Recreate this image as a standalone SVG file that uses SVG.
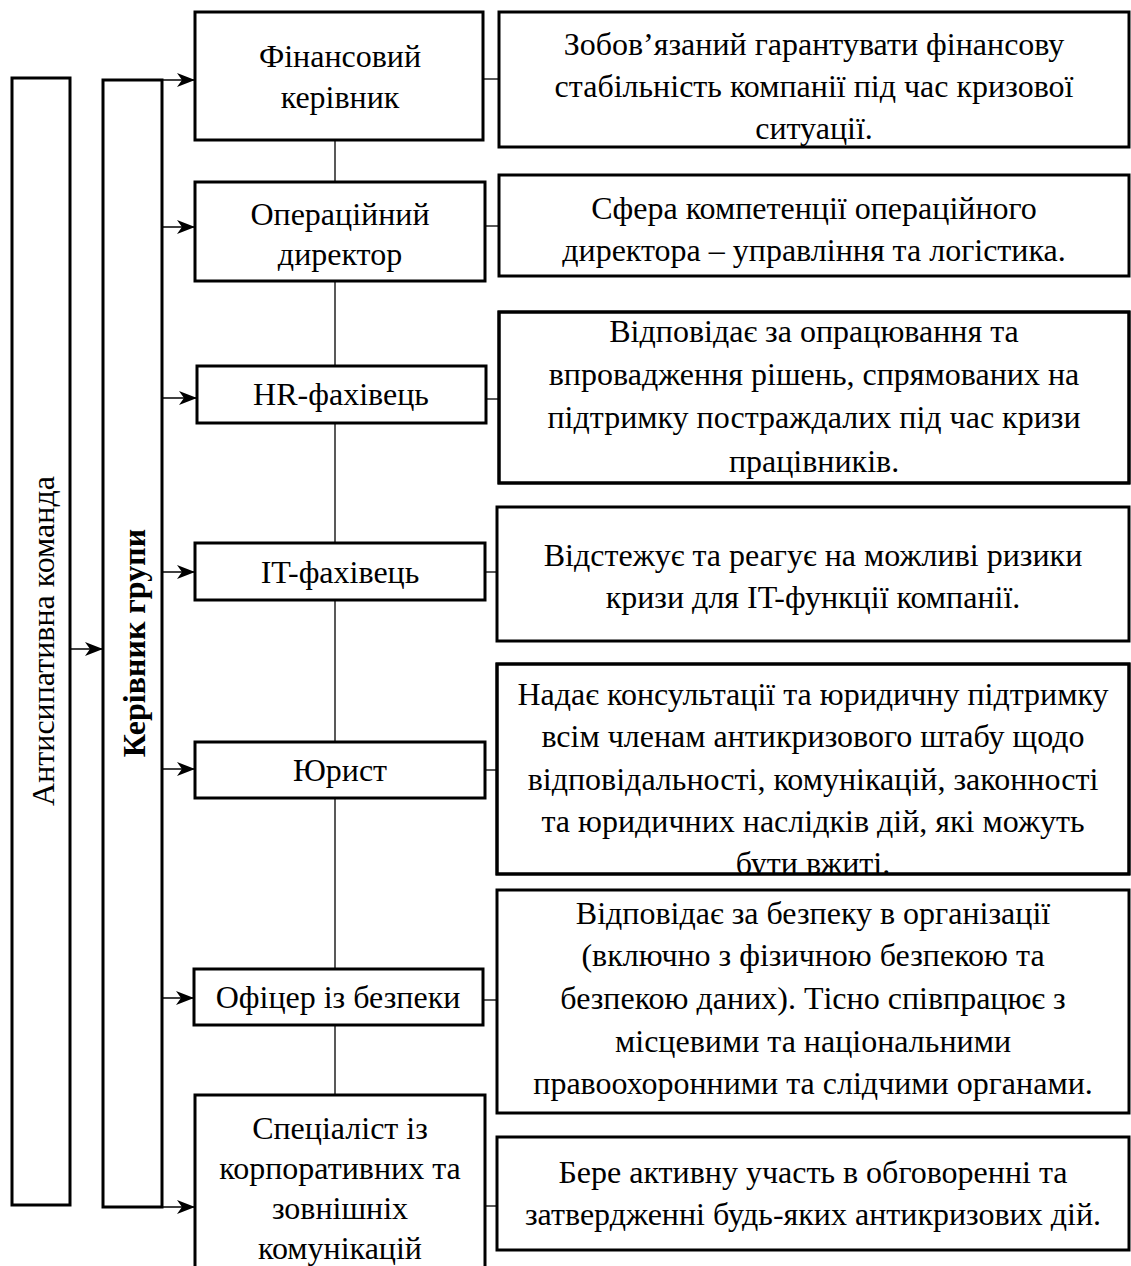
<svg xmlns="http://www.w3.org/2000/svg" width="1131" height="1266" viewBox="0 0 1131 1266">
<style>
  .box { fill: #fff; stroke: #000; stroke-width: 3; }
  .t { font-family: "Liberation Serif", "Times New Roman", serif; font-size: 32px; fill: #000; text-anchor: middle; }
  .b { font-weight: bold; }
  .conn { stroke: #222; stroke-width: 1.5; fill: none; }
  .arr { stroke: #000; stroke-width: 1.5; fill: none; marker-end: url(#ah); }
</style>
<defs>
  <marker id="ah" markerWidth="18" markerHeight="14" refX="18" refY="7" orient="auto" markerUnits="userSpaceOnUse">
    <path d="M0,0 L18,7 L0,14 L5,7 z" fill="#000"/>
  </marker>
  <clipPath id="cHR"><rect x="499" y="312" width="630" height="171"/></clipPath>
  <clipPath id="cJur"><rect x="497" y="664" width="632" height="210"/></clipPath>
</defs>
<rect width="1131" height="1266" fill="#fff"/>

<g id="connectors">
  <line class="arr" x1="70" y1="649" x2="103" y2="649"/>
  <line class="arr" x1="162" y1="80" x2="195" y2="80"/>
  <line class="arr" x1="162" y1="227" x2="195" y2="227"/>
  <line class="arr" x1="162" y1="398" x2="197" y2="398"/>
  <line class="arr" x1="162" y1="572" x2="195" y2="572"/>
  <line class="arr" x1="162" y1="769" x2="195" y2="769"/>
  <line class="arr" x1="162" y1="998" x2="194" y2="998"/>
  <line class="arr" x1="162" y1="1207" x2="195" y2="1207"/>
  <line class="conn" x1="335" y1="140" x2="335" y2="182"/>
  <line class="conn" x1="335" y1="281" x2="335" y2="366"/>
  <line class="conn" x1="335" y1="423" x2="335" y2="543"/>
  <line class="conn" x1="335" y1="600" x2="335" y2="742"/>
  <line class="conn" x1="335" y1="798" x2="335" y2="969"/>
  <line class="conn" x1="335" y1="1025" x2="335" y2="1095"/>
  <line class="conn" x1="483" y1="79" x2="499" y2="79"/>
  <line class="conn" x1="485" y1="226" x2="499" y2="226"/>
  <line class="conn" x1="486" y1="399" x2="499" y2="399"/>
  <line class="conn" x1="485" y1="572" x2="497" y2="572"/>
  <line class="conn" x1="485" y1="770" x2="497" y2="770"/>
  <line class="conn" x1="483" y1="1000" x2="497" y2="1000"/>
  <line class="conn" x1="485" y1="1206" x2="497" y2="1206"/>
</g>

<g id="team">
  <rect class="box" x="12" y="78" width="58" height="1127"/>
  <text class="t" transform="translate(54,641) rotate(-90)">Антисипативна команда</text>
</g>
<g id="leader">
  <rect class="box" x="103" y="80" width="59" height="1127"/>
  <text class="t b" transform="translate(145,643) rotate(-90)">Керівник групи</text>
</g>

<g id="fin">
  <rect class="box" x="195" y="12" width="288" height="128"/>
  <text class="t" x="340" y="67">Фінансовий</text>
  <text class="t" x="340" y="108">керівник</text>
</g>
<g id="ops">
  <rect class="box" x="195" y="182" width="290" height="99"/>
  <text class="t" x="340" y="225">Операційний</text>
  <text class="t" x="340" y="265">директор</text>
</g>
<g id="hr">
  <rect class="box" x="197" y="366" width="289" height="57"/>
  <text class="t" x="341" y="405">HR-фахівець</text>
</g>
<g id="it">
  <rect class="box" x="195" y="543" width="290" height="57"/>
  <text class="t" x="340" y="583">IT-фахівець</text>
</g>
<g id="lawyer">
  <rect class="box" x="195" y="742" width="290" height="56"/>
  <text class="t" x="340" y="781">Юрист</text>
</g>
<g id="security">
  <rect class="box" x="194" y="969" width="289" height="56"/>
  <text class="t" x="338" y="1008">Офіцер із безпеки</text>
</g>
<g id="comms">
  <rect class="box" x="195" y="1095" width="290" height="200"/>
  <text class="t" x="340" y="1139">Спеціаліст із</text>
  <text class="t" x="340" y="1179">корпоративних та</text>
  <text class="t" x="340" y="1219">зовнішніх</text>
  <text class="t" x="340" y="1259">комунікацій</text>
</g>

<g id="fin-desc">
  <rect class="box" x="499" y="12" width="630" height="135"/>
  <text class="t" x="814" y="55">Зобов’язаний гарантувати фінансову</text>
  <text class="t" x="814" y="97">стабільність компанії під час кризової</text>
  <text class="t" x="814" y="139">ситуації.</text>
</g>
<g id="ops-desc">
  <rect class="box" x="499" y="175" width="630" height="101"/>
  <text class="t" x="814" y="219">Сфера компетенції операційного</text>
  <text class="t" x="814" y="261">директора – управління та логістика.</text>
</g>
<g id="hr-desc">
  <rect class="box" x="499" y="312" width="630" height="171"/>
  <g clip-path="url(#cHR)">
    <text class="t" x="814" y="342">Відповідає за опрацювання та</text>
    <text class="t" x="814" y="385">впровадження рішень, спрямованих на</text>
    <text class="t" x="814" y="428">підтримку постраждалих під час кризи</text>
    <text class="t" x="814" y="472">працівників.</text>
  </g>
  <rect x="499" y="312" width="630" height="171" fill="none" stroke="#000" stroke-width="3"/>
</g>
<g id="it-desc">
  <rect class="box" x="497" y="507" width="632" height="134"/>
  <text class="t" x="813" y="566">Відстежує та реагує на можливі ризики</text>
  <text class="t" x="813" y="608">кризи для IT-функції компанії.</text>
</g>
<g id="lawyer-desc">
  <rect class="box" x="497" y="664" width="632" height="210"/>
  <g clip-path="url(#cJur)">
    <text class="t" x="813" y="705">Надає консультації та юридичну підтримку</text>
    <text class="t" x="813" y="747">всім членам антикризового штабу щодо</text>
    <text class="t" x="813" y="790">відповідальності, комунікацій, законності</text>
    <text class="t" x="813" y="832">та юридичних наслідків дій, які можуть</text>
    <text class="t" x="813" y="874">бути вжиті.</text>
  </g>
  <rect x="497" y="664" width="632" height="210" fill="none" stroke="#000" stroke-width="3"/>
</g>
<g id="security-desc">
  <rect class="box" x="497" y="890" width="632" height="223"/>
  <text class="t" x="813" y="924">Відповідає за безпеку в організації</text>
  <text class="t" x="813" y="966">(включно з фізичною безпекою та</text>
  <text class="t" x="813" y="1009">безпекою даних). Тісно співпрацює з</text>
  <text class="t" x="813" y="1052">місцевими та національними</text>
  <text class="t" x="813" y="1094">правоохоронними та слідчими органами.</text>
</g>
<g id="comms-desc">
  <rect class="box" x="497" y="1137" width="632" height="113"/>
  <text class="t" x="813" y="1183">Бере активну участь в обговоренні та</text>
  <text class="t" x="813" y="1225">затвердженні будь-яких антикризових дій.</text>
</g>
</svg>
